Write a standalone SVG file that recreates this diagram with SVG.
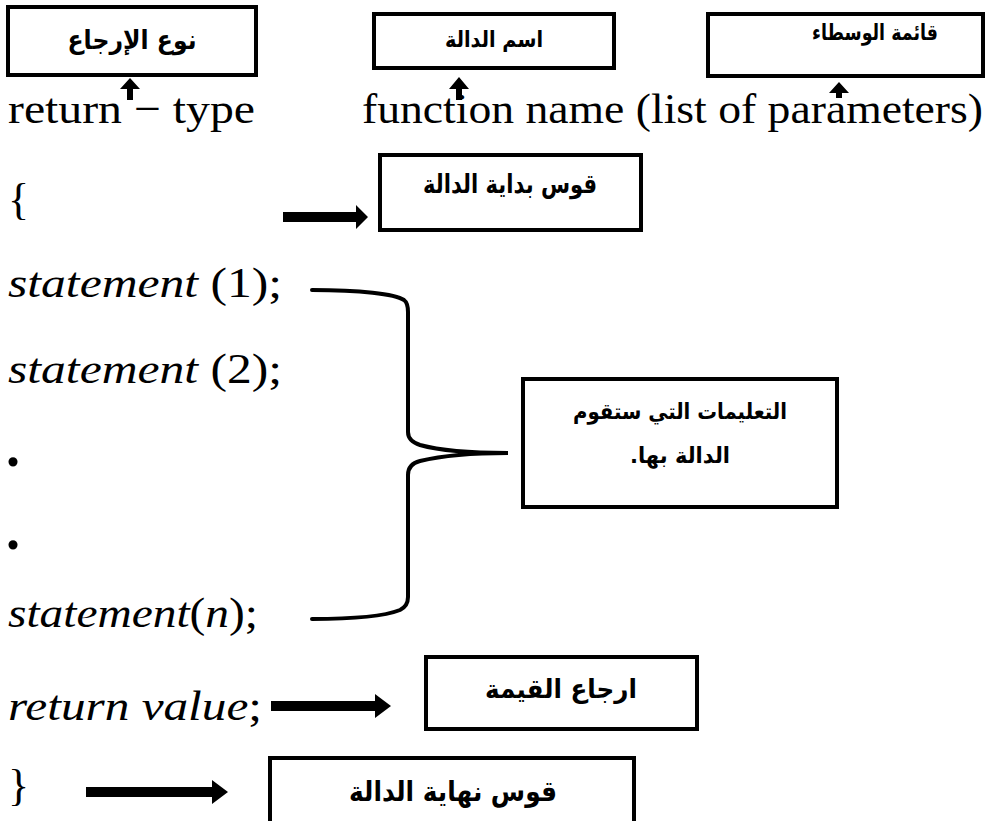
<svg xmlns="http://www.w3.org/2000/svg" width="986" height="821" viewBox="0 0 986 821">
<style>
.box{fill:#fff;stroke:#000;stroke-width:4}
.ar{font-family:"DejaVu Sans","Liberation Sans",sans-serif;font-weight:bold;fill:#000;text-anchor:middle;direction:rtl}
.code{font-family:"Liberation Serif","DejaVu Serif",serif;font-size:43px;fill:#000}
.it{font-style:italic}
.dot{font-family:"Liberation Serif","DejaVu Serif",serif;font-size:56px;font-weight:bold;fill:#000}
.brace{fill:none;stroke:#000;stroke-width:4;stroke-linecap:round}
.arr{fill:#000}
</style>
<rect width="986" height="821" fill="#fff"/>
<g id="code">
<text class="code" x="8" y="123" textLength="247" lengthAdjust="spacingAndGlyphs">return − type</text>
<text class="code" x="362" y="123" textLength="621" lengthAdjust="spacingAndGlyphs">function name (list of parameters)</text>
<text class="code" x="8" y="214" style="font-size:44px">{</text>
<text class="code" x="8" y="297" textLength="274" lengthAdjust="spacingAndGlyphs"><tspan class="it">statement</tspan> (1);</text>
<text class="code" x="8" y="383" textLength="274" lengthAdjust="spacingAndGlyphs"><tspan class="it">statement</tspan> (2);</text>
<text class="dot" x="6" y="466">.</text>
<text class="dot" x="6" y="549">.</text>
<text class="code" x="8" y="627" textLength="250" lengthAdjust="spacingAndGlyphs"><tspan class="it">statement</tspan>(<tspan class="it">n</tspan>);</text>
<text class="code" x="8" y="720" textLength="254" lengthAdjust="spacingAndGlyphs"><tspan class="it">return value</tspan>;</text>
<text class="code" x="8" y="800" style="font-size:44px">}</text>
</g>
<g id="node-return-type">
<rect class="box" x="8" y="7" width="248" height="68"/>
<text class="ar" x="132" y="49" style="font-size:26px" textLength="129" lengthAdjust="spacingAndGlyphs">نوع الإرجاع</text>
</g>
<g id="node-function-name">
<rect class="box" x="374" y="14" width="240" height="54"/>
<text class="ar" x="494" y="47" style="font-size:22px" textLength="98" lengthAdjust="spacingAndGlyphs">اسم الدالة</text>
</g>
<g id="node-parameters">
<rect class="box" x="708" y="14" width="275" height="62"/>
<text class="ar" x="875" y="40" style="font-size:22px" textLength="126" lengthAdjust="spacingAndGlyphs">قائمة الوسطاء</text>
</g>
<g id="node-open-brace">
<rect class="box" x="380" y="155" width="261" height="75"/>
<text class="ar" x="510" y="193" style="font-size:26px" textLength="174" lengthAdjust="spacingAndGlyphs">قوس بداية الدالة</text>
</g>
<g id="node-statements">
<rect class="box" x="523" y="379" width="314" height="128"/>
<text class="ar" x="680" y="419" style="font-size:22px" textLength="214" lengthAdjust="spacingAndGlyphs">التعليمات التي ستقوم</text>
<text class="ar" x="680" y="463" style="font-size:22px" textLength="100" lengthAdjust="spacingAndGlyphs">الدالة بها.</text>
</g>
<g id="node-return-value">
<rect class="box" x="426" y="657" width="271" height="72"/>
<text class="ar" x="561" y="698" style="font-size:26px" textLength="152" lengthAdjust="spacingAndGlyphs">ارجاع القيمة</text>
</g>
<g id="node-close-brace">
<rect class="box" x="270" y="758" width="364" height="70"/>
<text class="ar" x="453" y="801" style="font-size:28px" textLength="208" lengthAdjust="spacingAndGlyphs">قوس نهاية الدالة</text>
</g>
<g id="connectors">
<path class="arr" d="M127,100 V89 H120 L130,78 L140,89 H133 V100 Z"/>
<path class="arr" d="M456,100 V89 H449 L459,77 L469,89 H462 V100 Z"/>
<path class="arr" d="M836,98 V93 H829 L839,82 L849,93 H842 V98 Z"/>
<path class="arr" d="M283,212 H356 V205 L368,217 L356,229 V222 H283 Z"/>
<path class="arr" d="M271,701 H375 V694 L391,706 L375,718 V711 H271 Z"/>
<path class="arr" d="M86,787 H212 V780 L228,792 L212,804 V797 H86 Z"/>
<path class="brace" d="M312,290 C360,290 395,294 404,300 Q408,303 408,312 V432 Q408,441 420,445 C445,452 480,453 508,453 C480,453 445,455 420,461 Q408,464 408,475 V597 Q408,606 400,610 C385,616 350,619 312,619"/>
</g>
</svg>
